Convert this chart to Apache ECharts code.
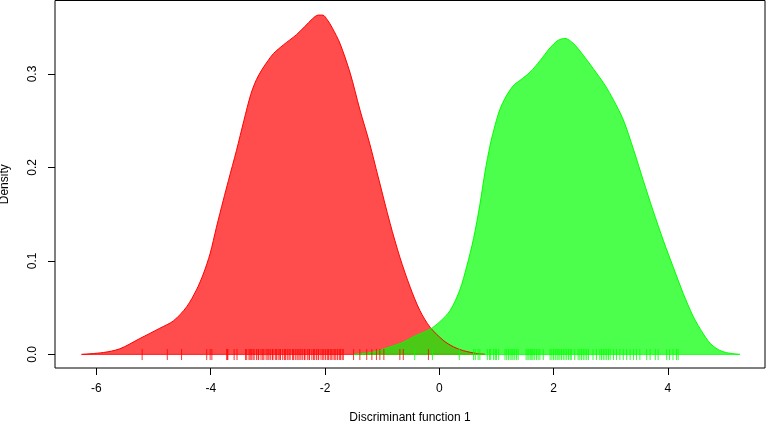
<!DOCTYPE html>
<html>
<head>
<meta charset="utf-8">
<script src="https://cdn.jsdelivr.net/npm/echarts@6/dist/echarts.min.js"></script>
<style>html,body{margin:0;padding:0;background:#fff;}#c{width:767px;height:423px;}</style>
</head>
<body>
<div id="c"></div>
<script>
// Density curve of group 1 (red): [x, density]
const redDensity = [
  [-6.26,0],[-5.88,0.002],[-5.59,0.006],[-5.24,0.017],[-4.89,0.028],[-4.65,0.036],
  [-4.42,0.051],[-4.25,0.069],[-4.13,0.086],[-4.01,0.108],[-3.90,0.136],[-3.78,0.165],
  [-3.69,0.186],[-3.55,0.218],[-3.42,0.250],[-3.30,0.278],[-3.20,0.294],[-3.10,0.305],
  [-3.00,0.314],[-2.90,0.322],[-2.73,0.331],[-2.50,0.342],[-2.35,0.351],[-2.22,0.359],
  [-2.12,0.363],[-2.04,0.363],[-1.96,0.358],[-1.87,0.349],[-1.74,0.333],[-1.56,0.301],
  [-1.39,0.262],[-1.22,0.226],[-1.07,0.190],[-0.86,0.140],[-0.69,0.104],[-0.51,0.072],
  [-0.34,0.047],[-0.16,0.029],[0.07,0.015],[0.25,0.008],[0.42,0.004],[0.65,0.001],[0.80,0]
];
// Density curve of group 2 (green): [x, density]
const greenDensity = [
  [-1.50,0],[-1.15,0.0025],[-0.86,0.008],[-0.63,0.013],[-0.45,0.019],[-0.16,0.027],
  [0.01,0.035],[0.19,0.047],[0.36,0.069],[0.48,0.094],[0.60,0.124],[0.71,0.160],
  [0.80,0.195],[0.89,0.224],[0.98,0.246],[1.06,0.262],[1.15,0.274],[1.24,0.283],
  [1.32,0.289],[1.41,0.293],[1.59,0.302],[1.76,0.314],[1.94,0.328],[2.08,0.336],
  [2.20,0.338],[2.34,0.333],[2.52,0.320],[2.75,0.301],[2.90,0.288],[3.05,0.272],
  [3.22,0.251],[3.40,0.219],[3.57,0.186],[3.74,0.154],[3.92,0.122],[4.09,0.094],
  [4.27,0.065],[4.44,0.041],[4.53,0.031],[4.62,0.022],[4.71,0.014],[4.79,0.009],
  [4.90,0.0045],[5.03,0.0018],[5.26,0]
];
// Rug (individual scores) for group 1
const redRug = [
  -5.20,-4.76,-4.51,-4.07,-4.01,-3.98,-3.72,-3.71,-3.70,-3.59,-3.54,
  -3.39,-3.37,-3.33,-3.31,-3.29,-3.26,-3.24,-3.20,-3.17,-3.16,-3.12,-3.09,-3.07,-3.03,
  -3.00,-2.98,-2.95,-2.92,-2.91,-2.87,-2.85,-2.82,-2.79,-2.78,-2.74,-2.71,-2.69,-2.66,
  -2.63,-2.61,-2.57,-2.55,-2.52,-2.49,-2.47,-2.44,-2.42,-2.39,-2.36,-2.35,-2.31,-2.28,
  -2.27,-2.23,-2.20,-2.18,-2.15,-2.12,-2.11,-2.07,-2.04,-2.02,-1.99,-1.96,-1.94,-1.91,
  -1.89,-1.86,-1.83,-1.81,-1.78,-1.75,-1.73,-1.70,-1.68,
  -1.50,-1.39,-1.27,-1.18,-1.10,-1.04,-0.97,-0.69,-0.63,-0.19
];
// Rug (individual scores) for group 2
const greenRug = [
  -0.43,-0.12,0.35,
  0.60,0.63,0.68,0.71,0.84,0.88,0.90,0.95,0.98,1.00,1.04,1.15,1.18,1.21,1.24,1.27,1.29,
  1.32,1.35,1.38,1.52,1.55,1.57,1.60,1.62,1.64,1.67,1.70,1.73,1.76,1.82,1.94,1.97,2.00,
  2.03,2.06,2.08,2.11,2.14,2.17,2.20,2.23,2.26,2.29,2.31,2.37,2.43,2.46,2.49,2.52,2.55,
  2.58,2.61,2.69,2.75,2.81,2.84,2.87,2.90,2.93,2.96,2.99,3.05,3.10,3.16,3.22,3.28,3.34,
  3.40,3.45,3.51,3.63,3.69,3.78,3.83,3.98,4.03,4.09,4.15,4.18
];
const xTicks = [-6,-4,-2,0,2,4];
const yTicks = [0,0.1,0.2,0.3];
const xTitle = 'Discriminant function 1';
const yTitle = 'Density';

const font = 'Liberation Sans, Arial, Helvetica, sans-serif';
const baseline = arr => [[arr[0][0],0],[arr[arr.length-1][0],0]];
const chart = echarts.init(document.getElementById('c'), null, {renderer:'canvas'});
chart.setOption({
  animation:false,
  backgroundColor:'#ffffff',
  grid:{left:55,right:2,top:0.5,bottom:55,show:true,borderColor:'#000',borderWidth:1,
        backgroundColor:'transparent',containLabel:false,outerBoundsMode:'none'},
  xAxis:{
    type:'value',min:-6.725,max:5.70,
    name:xTitle,nameLocation:'middle',nameGap:44,
    nameTextStyle:{fontFamily:font,fontSize:12,color:'#000'},
    axisLine:{show:false,onZero:false},
    splitLine:{show:false},
    axisTick:{show:true,customValues:xTicks,length:7,lineStyle:{color:'#000',width:1}},
    axisLabel:{customValues:xTicks,margin:15,fontFamily:font,fontSize:12,color:'#000',formatter:v=>String(v)}
  },
  yAxis:{
    type:'value',min:-0.01456,max:0.3786,
    name:yTitle,nameLocation:'middle',nameGap:44,nameRotate:90,
    nameTextStyle:{fontFamily:font,fontSize:12,color:'#000'},
    axisLine:{show:false,onZero:false},
    splitLine:{show:false},
    axisTick:{show:true,customValues:yTicks,length:7,lineStyle:{color:'#000',width:1}},
    axisLabel:{customValues:yTicks,rotate:90,margin:16,fontFamily:font,fontSize:12,color:'#000',formatter:v=>v.toFixed(1)}
  },
  series:[
    {type:'line',data:redDensity,smooth:0.3,symbol:'none',
     lineStyle:{color:'rgb(255,0,0)',width:1},
     areaStyle:{color:'rgba(255,0,0,0.7)',opacity:1,origin:0}},
    {type:'line',data:baseline(redDensity),symbol:'none',silent:true,
     lineStyle:{color:'rgba(255,0,0,0.8)',width:1}},
    {type:'line',data:greenDensity,smooth:0.3,symbol:'none',
     lineStyle:{color:'rgb(0,255,0)',width:1},
     areaStyle:{color:'rgba(0,255,0,0.7)',opacity:1,origin:0}},
    {type:'line',data:baseline(greenDensity),symbol:'none',silent:true,
     lineStyle:{color:'rgba(0,255,0,0.8)',width:1}},
    {type:'scatter',data:redRug.map(v=>[v,0]),symbol:'rect',symbolSize:[1,11],
     itemStyle:{color:'rgb(255,0,0)'},z:3},
    {type:'scatter',data:greenRug.map(v=>[v,0]),symbol:'rect',symbolSize:[1,11],
     itemStyle:{color:'rgb(0,255,0)'},z:3}
  ]
});
</script>
</body>
</html>
